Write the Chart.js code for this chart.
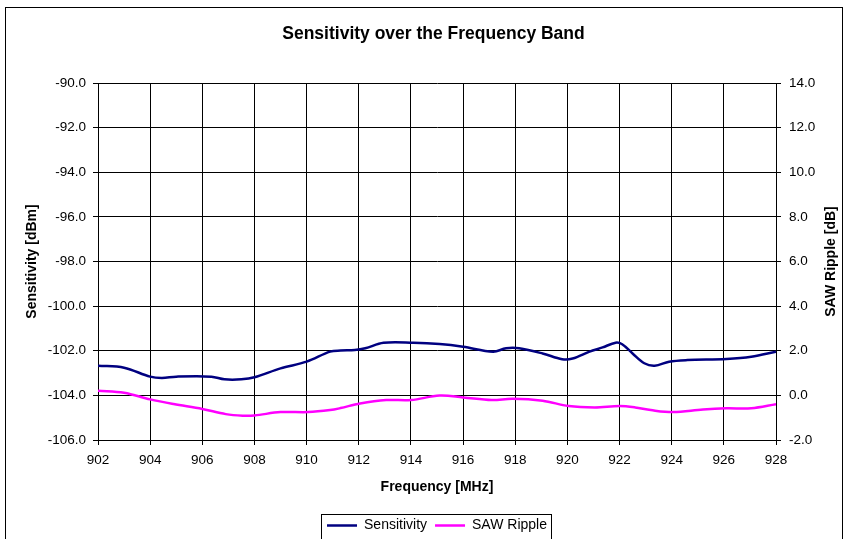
<!DOCTYPE html>
<html>
<head>
<meta charset="utf-8">
<script src="https://cdn.jsdelivr.net/npm/chart.js@4.4.1/dist/chart.umd.min.js"></script>
<style>
  html, body { margin: 0; padding: 0; background: #fff; }
  #wrap { width: 845px; height: 539px; }
</style>
</head>
<body>
<div id="wrap"><canvas id="c" width="845" height="539"></canvas></div>
<script>
// ---- data ----
const chartTitle = 'Sensitivity over the Frequency Band';
const xTitle = 'Frequency [MHz]';
const yLeftTitle = 'Sensitivity [dBm]';
const yRightTitle = 'SAW Ripple [dB]';
const seriesNames = ['Sensitivity', 'SAW Ripple'];

const freqSens = [902, 903, 904, 904.45, 905, 906.35, 906.85, 907.5, 908, 909, 910, 910.9, 911.3, 911.85, 912.25, 912.95, 914.1, 915.1, 916, 917.15, 917.65, 918.15, 919.05, 919.8, 920.2, 920.85, 921.35, 921.85, 922.1, 922.5, 922.95, 923.35, 923.9, 924.6, 926.1, 927.05, 928];
const sensitivity = [-102.67, -102.76, -103.16, -103.22, -103.16, -103.16, -103.28, -103.28, -103.19, -102.79, -102.49, -102.04, -101.99, -101.97, -101.89, -101.64, -101.64, -101.70, -101.82, -102.04, -101.89, -101.89, -102.12, -102.38, -102.35, -102.04, -101.85, -101.64, -101.71, -102.12, -102.56, -102.67, -102.49, -102.42, -102.37, -102.27, -102.04];

const freqSaw = [902, 903, 904, 904.9, 906, 906.9, 907.55, 908, 909, 910.05, 910.9, 911.3, 912.05, 913.05, 914, 915.1, 916, 917.1, 917.9, 919.05, 920.05, 921.05, 922, 922.6, 923.2, 924.05, 925.2, 926.1, 927.05, 928];
const sawRipple = [0.21, 0.12, -0.18, -0.39, -0.61, -0.84, -0.91, -0.90, -0.75, -0.75, -0.66, -0.57, -0.36, -0.21, -0.21, -0.01, -0.09, -0.21, -0.15, -0.24, -0.48, -0.54, -0.48, -0.54, -0.66, -0.75, -0.63, -0.58, -0.58, -0.40];

const xRange = [902, 928];
const yLeftRange = [-106, -90];
const yRightRange = [-2, 14];
const tickStep = 2;
// --------------------------------------------

const FONT = '"Liberation Sans", Arial, Helvetica, sans-serif';
Chart.defaults.color = '#000';
Chart.defaults.font.family = FONT;

const PLOT_LEFT = 98, PLOT_RIGHT = 776, PAD_LEFT = 24, PAD_RIGHT = 2;

const framePlugin = {
  id: 'frame',
  beforeDraw(chart) {
    const ctx = chart.ctx;
    ctx.save();
    ctx.fillStyle = '#fff';
    ctx.fillRect(0, 0, chart.width, chart.height);
    ctx.strokeStyle = '#000';
    ctx.lineWidth = 1;
    ctx.strokeRect(5.5, 7.5, 837, 540);
    ctx.restore();
  },
  afterDraw(chart) {
    const ctx = chart.ctx;
    const area = chart.chartArea;
    // right axis title, reading bottom to top
    ctx.save();
    ctx.font = 'bold 14px ' + FONT;
    ctx.fillStyle = '#000';
    ctx.textAlign = 'center';
    ctx.textBaseline = 'middle';
    ctx.translate(831, (area.top + area.bottom) / 2);
    ctx.rotate(-Math.PI / 2);
    ctx.fillText(yRightTitle, 0, 0);
    ctx.restore();
    // legend frame
    const lg = chart.legend;
    if (lg && lg.legendHitBoxes && lg.legendHitBoxes.length) {
      const hb = lg.legendHitBoxes;
      const first = hb[0], last = hb[hb.length - 1];
      const x0 = Math.round(first.left - 6) + 0.5;
      const x1 = Math.round(last.left + last.width + 4) + 0.5;
      const y0 = Math.round(first.top - 5) + 0.5;
      const y1 = Math.round(first.top + first.height + 6) + 0.5;
      ctx.save();
      ctx.strokeStyle = '#000';
      ctx.lineWidth = 1;
      ctx.strokeRect(x0, y0, x1 - x0, y1 - y0);
      ctx.restore();
    }
  }
};

const sensData = freqSens.map((f, i) => ({ x: f, y: sensitivity[i] }));
const sawData = freqSaw.map((f, i) => ({ x: f, y: sawRipple[i] }));

new Chart(document.getElementById('c'), {
  type: 'line',
  data: {
    datasets: [
      {
        label: seriesNames[0],
        data: sensData,
        yAxisID: 'y',
        borderColor: '#000080',
        backgroundColor: '#000080',
        borderWidth: 2.5,
        pointRadius: 0,
        tension: 0.35,
        fill: false
      },
      {
        label: seriesNames[1],
        data: sawData,
        yAxisID: 'y1',
        borderColor: '#FF00FF',
        backgroundColor: '#FF00FF',
        borderWidth: 2.5,
        pointRadius: 0,
        tension: 0.35,
        fill: false
      }
    ]
  },
  options: {
    responsive: false,
    animation: false,
    devicePixelRatio: 1,
    layout: { padding: { left: PAD_LEFT, right: PAD_RIGHT, top: 0, bottom: 0 } },
    plugins: {
      title: {
        display: true,
        text: chartTitle,
        fullSize: true,
        font: { size: 17.5, weight: 'bold', family: FONT },
        color: '#000',
        padding: { top: 23.5, bottom: 38.5 }
      },
      legend: {
        display: true,
        position: 'bottom',
        fullSize: false,
        maxHeight: 28.5,
        labels: {
          usePointStyle: true,
          pointStyle: 'line',
          pointStyleWidth: 30,
          boxHeight: 14,
          padding: 8,
          color: '#000',
          font: { size: 14, family: FONT }
        }
      },
      tooltip: { enabled: false }
    },
    scales: {
      x: {
        type: 'linear',
        min: xRange[0],
        max: xRange[1],
        afterFit(scale) { scale.height = 70.5; },
        ticks: {
          stepSize: tickStep,
          autoSkip: false,
          maxRotation: 0,
          padding: 7,
          color: '#000',
          font: { size: 13.5, family: FONT },
          callback: v => String(v)
        },
        grid: { color: '#000', lineWidth: 1, tickLength: 5, drawTicks: true },
        border: { display: true, color: '#000', width: 1 },
        title: {
          display: true,
          text: xTitle,
          color: '#000',
          font: { size: 14, weight: 'bold', family: FONT },
          padding: { top: 0, bottom: 15.4 }
        }
      },
      y: {
        position: 'left',
        min: yLeftRange[0],
        max: yLeftRange[1],
        afterFit(scale) { scale.width = PLOT_LEFT - PAD_LEFT; },
        ticks: {
          stepSize: tickStep,
          padding: 7,
          color: '#000',
          font: { size: 13.5, family: FONT },
          callback: v => Number(v).toFixed(1)
        },
        grid: { color: '#000', lineWidth: 1, tickLength: 5, drawTicks: true },
        border: { display: true, color: '#000', width: 1 },
        title: {
          display: true,
          text: yLeftTitle,
          color: '#000',
          font: { size: 14, weight: 'bold', family: FONT },
          padding: { top: 0, bottom: 0 }
        }
      },
      y1: {
        position: 'right',
        min: yRightRange[0],
        max: yRightRange[1],
        afterFit(scale) { scale.width = 845 - PAD_RIGHT - PLOT_RIGHT; },
        ticks: {
          stepSize: tickStep,
          padding: 8,
          color: '#000',
          font: { size: 13.5, family: FONT },
          callback: v => Number(v).toFixed(1)
        },
        grid: { color: '#000', lineWidth: 1, tickLength: 5, drawTicks: true, drawOnChartArea: false },
        border: { display: true, color: '#000', width: 1 },
        title: { display: false }
      }
    }
  },
  plugins: [framePlugin]
});
</script>
</body>
</html>
